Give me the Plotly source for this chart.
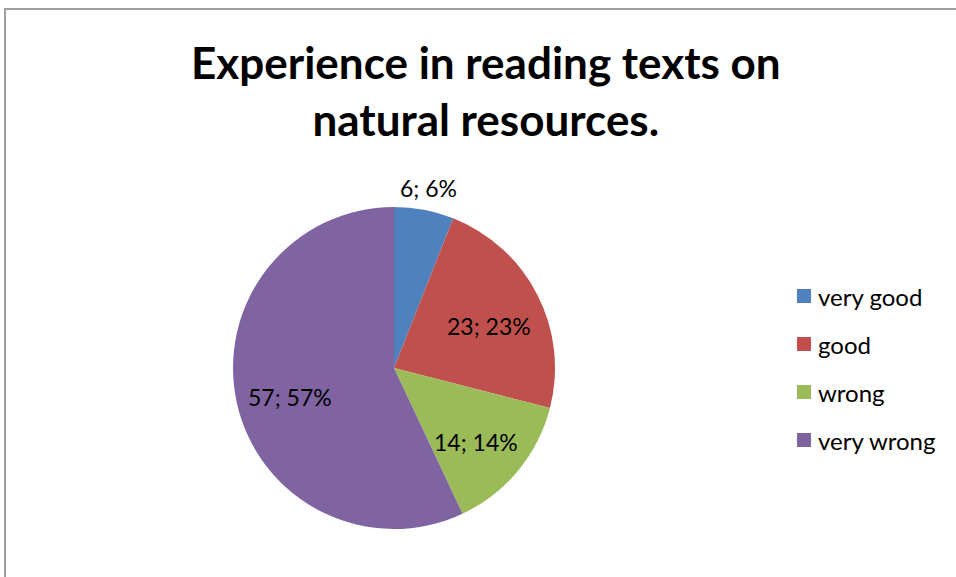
import numpy as np
import plotly.graph_objects as go

# Survey answers
categories = ["very good", "good", "wrong", "very wrong"]
counts = [6, 23, 14, 57]
colors = ["#4F81BD", "#C0504D", "#9BBB59", "#8064A2"]
title_lines = ["Experience in reading texts on", "natural resources."]

W, H = 956, 577
FONT = "Lato, 'Open Sans', sans-serif"

# pie placement in pixels
cx_px, cy_px, r_px = 394, 368, 161

fig = go.Figure(
    go.Pie(
        labels=categories,
        values=counts,
        sort=False,
        direction="clockwise",
        rotation=0,
        marker=dict(colors=colors, line=dict(width=0)),
        textinfo="none",
        hoverinfo="label+value+percent",
        showlegend=False,
        domain=dict(
            x=[(cx_px - r_px) / W, (cx_px + r_px) / W],
            y=[(H - cy_px - r_px) / H, (H - cy_px + r_px) / H],
        ),
    )
)

annotations = []
shapes = []

# data labels "value; percent" at each slice's mid-angle
vals = np.array(counts, dtype=float)
total = vals.sum()
ends = np.cumsum(vals) / total
mids = ends - vals / total / 2
for v, m in zip(counts, mids):
    theta = 2 * np.pi * m  # clockwise from 12 o'clock
    pct = round(100 * v / total)
    r = r_px + 22 if v / total < 0.1 else r_px * 0.66
    x = cx_px + r * np.sin(theta)
    y = cy_px - r * np.cos(theta) + (0 if v / total < 0.1 else 6)
    annotations.append(dict(
        x=x / W, y=1 - y / H, xref="paper", yref="paper",
        text=f"{v}; {pct}%", showarrow=False,
        xanchor="center", yanchor="middle",
        font=dict(family=FONT, size=23, color="#000000"),
    ))

# legend drawn as squares + labels
leg_x, leg_y0, leg_dy, sq = 797, 296, 48, 14
for i, (name, col) in enumerate(zip(categories, colors)):
    yc = leg_y0 + i * leg_dy
    shapes.append(dict(
        type="rect", xref="paper", yref="paper",
        x0=leg_x / W, x1=(leg_x + sq) / W,
        y0=1 - (yc + sq / 2) / H, y1=1 - (yc - sq / 2) / H,
        fillcolor=col, line=dict(width=0),
    ))
    annotations.append(dict(
        x=(leg_x + sq + 5) / W, y=1 - yc / H, xref="paper", yref="paper",
        text=name, showarrow=False, xanchor="left", yanchor="middle",
        font=dict(family=FONT, size=24, color="#000000"),
    ))

# title
annotations.append(dict(
    x=486 / W, y=1 - 90 / H, xref="paper", yref="paper",
    text="<b>" + "<br>".join(title_lines) + "</b>", showarrow=False,
    xanchor="center", yanchor="middle", align="center",
    font=dict(family=FONT, size=44, color="#000000"),
))

# chart area frame (left and top edges visible)
shapes.append(dict(
    type="path", xref="paper", yref="paper",
    path=f"M {5/W} 0 L {5/W} {1 - 9/H} L 1 {1 - 9/H}",
    line=dict(color="#A0A0A0", width=2),
))

fig.update_layout(
    width=W, height=H, autosize=False,
    margin=dict(l=0, r=0, t=0, b=0),
    paper_bgcolor="#FFFFFF", plot_bgcolor="#FFFFFF",
    annotations=annotations, shapes=shapes,
)

fig.write_html("out.html")
